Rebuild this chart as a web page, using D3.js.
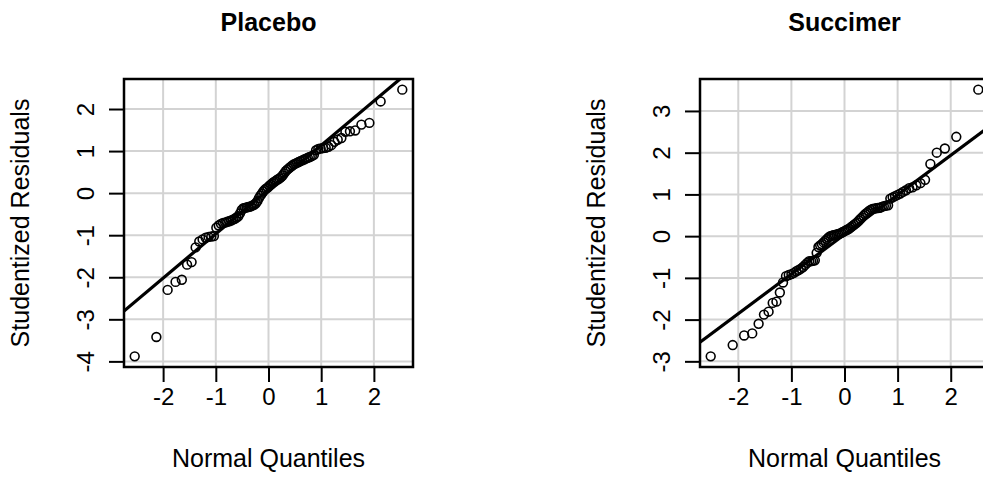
<!DOCTYPE html>
<html>
<head>
<meta charset="utf-8">
<script src="https://cdn.jsdelivr.net/npm/d3@7"></script>
<style>
  body { margin: 0; background: #ffffff; }
  svg { display: block; font-family: "Liberation Sans", Arial, Helvetica, sans-serif; }
</style>
</head>
<body>
<svg id="chart" width="983" height="499"></svg>
<script>
// Sorted studentized residuals for each treatment group
const panelTitles = ["Placebo", "Succimer"];

const placeboResiduals = [
  -3.88, -3.42, -2.30, -2.11, -2.06, -1.70, -1.64, -1.29, -1.15, -1.10,
  -1.06, -1.04, -1.03, -1.02, -0.82, -0.77, -0.73, -0.71, -0.70, -0.68,
  -0.67, -0.65, -0.63, -0.61, -0.58, -0.55, -0.48, -0.40, -0.36, -0.35,
  -0.34, -0.33, -0.32, -0.31, -0.29, -0.27, -0.24, -0.19, -0.12, -0.06,
  -0.01, 0.04, 0.08, 0.11, 0.13, 0.17, 0.20, 0.23, 0.26, 0.28,
  0.31, 0.33, 0.35, 0.38, 0.42, 0.47, 0.52, 0.56, 0.59, 0.62,
  0.65, 0.68, 0.70, 0.72, 0.74, 0.76, 0.78, 0.80, 0.82, 0.84,
  0.86, 0.88, 0.91, 1.02, 1.05, 1.06, 1.07, 1.08, 1.10, 1.14,
  1.22, 1.27, 1.31, 1.46, 1.47, 1.49, 1.63, 1.67, 2.18, 2.46
];

const succimerResiduals = [
  -2.88, -2.61, -2.38, -2.33, -2.10, -1.88, -1.81, -1.60, -1.57, -1.35, -1.11,
  -0.96, -0.93, -0.91, -0.88, -0.84, -0.81, -0.78, -0.74, -0.69, -0.64, -0.60, -0.60, -0.59, -0.58,
  -0.40, -0.26, -0.22, -0.19, -0.15, -0.11, -0.07, -0.03, 0.00, 0.01, 0.02, 0.03, 0.04, 0.05, 0.06, 0.08, 0.10, 0.12,
  0.14, 0.16, 0.18, 0.21, 0.24, 0.27, 0.30, 0.33, 0.37, 0.41, 0.45, 0.49, 0.53, 0.56, 0.60, 0.63, 0.65,
  0.66, 0.67, 0.675, 0.68, 0.70, 0.72, 0.73, 0.74,
  0.90, 0.93, 0.96, 0.99, 1.02, 1.06, 1.10, 1.15, 1.17, 1.22, 1.27, 1.35, 1.73, 2.00, 2.10, 2.38, 3.51
];

const xTickValues = [-2, -1, 0, 1, 2];
const placeboYTicks = [-4, -3, -2, -1, 0, 1, 2];
const succimerYTicks = [-3, -2, -1, 0, 1, 2, 3];
const xAxisTitle = "Normal Quantiles";
const yAxisTitle = "Studentized Residuals";

// Inverse standard normal CDF (Acklam's rational approximation)
function qnorm(p) {
  const a = [-3.969683028665376e+01, 2.209460984245205e+02, -2.759285104469687e+02, 1.383577518672690e+02, -3.066479806614716e+01, 2.506628277459239e+00];
  const b = [-5.447609879822406e+01, 1.615858368580409e+02, -1.556989798598866e+02, 6.680131188771972e+01, -1.328068155288572e+01];
  const c = [-7.784894002430293e-03, -3.223964580411365e-01, -2.400758277161838e+00, -2.549732539343734e+00, 4.374664141464968e+00, 2.938163982698783e+00];
  const d = [7.784695709041462e-03, 3.224671290700398e-01, 2.445134137142996e+00, 3.754408661907416e+00];
  const pl = 0.02425, ph = 1 - pl;
  let q, r;
  if (p < pl) {
    q = Math.sqrt(-2 * Math.log(p));
    return (((((c[0]*q+c[1])*q+c[2])*q+c[3])*q+c[4])*q+c[5]) / ((((d[0]*q+d[1])*q+d[2])*q+d[3])*q+1);
  }
  if (p > ph) {
    q = Math.sqrt(-2 * Math.log(1 - p));
    return -(((((c[0]*q+c[1])*q+c[2])*q+c[3])*q+c[4])*q+c[5]) / ((((d[0]*q+d[1])*q+d[2])*q+d[3])*q+1);
  }
  q = p - 0.5; r = q * q;
  return (((((a[0]*r+a[1])*r+a[2])*r+a[3])*r+a[4])*r+a[5])*q / (((((b[0]*r+b[1])*r+b[2])*r+b[3])*r+b[4])*r+1);
}

// Pad a range by 4% on each side, as base-graphics axes do
function paddedExtent(vals) {
  const [lo, hi] = d3.extent(vals);
  const pad = (hi - lo) * 0.04;
  return [lo - pad, hi + pad];
}

const svg = d3.select("#chart");
svg.append("rect").attr("width", 983).attr("height", 499).attr("fill", "#ffffff");

const plotTop = 79, plotBottom = 367, plotWidth = 289;
const tickFont = 24, labelFont = 25, titleFont = 25;

const panels = [
  { title: panelTitles[0], values: placeboResiduals, yTicks: placeboYTicks, left: 124 },
  { title: panelTitles[1], values: succimerResiduals, yTicks: succimerYTicks, left: 700 }
];

panels.forEach((p, idx) => {
  const n = p.values.length;
  const sorted = p.values.slice().sort(d3.ascending);
  const pts = sorted.map((v, i) => ({ q: qnorm((i + 1 - 0.5) / n), r: v }));

  const x = d3.scaleLinear().domain(paddedExtent(pts.map(d => d.q))).range([p.left, p.left + plotWidth]);
  const y = d3.scaleLinear().domain(paddedExtent(sorted)).range([plotBottom, plotTop]);

  const g = svg.append("g");
  const clipId = "clip" + idx;
  svg.append("clipPath").attr("id", clipId)
    .append("rect").attr("x", p.left).attr("y", plotTop)
    .attr("width", plotWidth).attr("height", plotBottom - plotTop);

  // light grid at the tick positions
  const grid = g.append("g").attr("clip-path", `url(#${clipId})`);
  grid.selectAll("line.vx").data(xTickValues).join("line")
    .attr("x1", d => x(d)).attr("x2", d => x(d))
    .attr("y1", plotTop).attr("y2", plotBottom)
    .attr("stroke", "#d3d3d3").attr("stroke-width", 2);
  grid.selectAll("line.hy").data(p.yTicks).join("line")
    .attr("y1", d => y(d)).attr("y2", d => y(d))
    .attr("x1", p.left).attr("x2", p.left + plotWidth)
    .attr("stroke", "#d3d3d3").attr("stroke-width", 2);

  // Q-Q points
  g.append("g").selectAll("circle").data(pts).join("circle")
    .attr("cx", d => x(d.q)).attr("cy", d => y(d.r)).attr("r", 4.4)
    .attr("fill", "none").attr("stroke", "#000").attr("stroke-width", 1.6);

  // reference line through the quartiles
  const yq1 = d3.quantile(sorted, 0.25), yq3 = d3.quantile(sorted, 0.75);
  const xq1 = qnorm(0.25), xq3 = qnorm(0.75);
  const slope = (yq3 - yq1) / (xq3 - xq1);
  const intercept = yq1 - slope * xq1;
  const [dx0, dx1] = x.domain();
  g.append("line").attr("clip-path", `url(#${clipId})`)
    .attr("x1", x(dx0)).attr("y1", y(intercept + slope * dx0))
    .attr("x2", x(dx1)).attr("y2", y(intercept + slope * dx1))
    .attr("stroke", "#000").attr("stroke-width", 3.2);

  // axes
  const xAxis = d3.axisBottom(x).tickValues(xTickValues).tickSize(15).tickPadding(6)
    .tickFormat(d3.format("d"));
  const gx = g.append("g").attr("transform", `translate(0,${plotBottom})`).call(xAxis);
  gx.select(".domain").remove();
  gx.selectAll(".tick line").attr("stroke", "#000").attr("stroke-width", 2);
  gx.selectAll(".tick text").attr("font-size", tickFont).attr("fill", "#000")
    .attr("font-family", "Liberation Sans, Arial, sans-serif")
    .attr("y", 30).attr("dy", "0.35em")
    .text(d => d < 0 ? "-" + Math.abs(d) : String(d));

  const yAxis = d3.axisLeft(y).tickValues(p.yTicks).tickSize(15).tickFormat(d3.format("d"));
  const gy = g.append("g").attr("transform", `translate(${p.left},0)`).call(yAxis);
  gy.select(".domain").remove();
  gy.selectAll(".tick line").attr("stroke", "#000").attr("stroke-width", 2);
  gy.selectAll(".tick text")
    .attr("font-size", tickFont).attr("fill", "#000")
    .attr("font-family", "Liberation Sans, Arial, sans-serif")
    .attr("text-anchor", "middle")
    .attr("x", null)
    .attr("transform", "translate(-38,0) rotate(-90)")
    .attr("dy", "0.35em")
    .text(d => d < 0 ? "-" + Math.abs(d) : String(d));

  // plot frame
  g.append("rect").attr("x", p.left).attr("y", plotTop)
    .attr("width", plotWidth).attr("height", plotBottom - plotTop)
    .attr("fill", "none").attr("stroke", "#000").attr("stroke-width", 2.5);

  const cx = p.left + plotWidth / 2;
  // panel title
  g.append("text").attr("x", cx).attr("y", 22).attr("dy", "0.35em")
    .attr("text-anchor", "middle").attr("font-weight", "bold")
    .attr("font-size", titleFont).attr("fill", "#000").text(p.title);
  // axis titles
  g.append("text").attr("x", cx).attr("y", 458).attr("dy", "0.35em")
    .attr("text-anchor", "middle").attr("font-size", labelFont).attr("fill", "#000")
    .text(xAxisTitle);
  g.append("text")
    .attr("transform", `translate(${p.left - 104},${(plotTop + plotBottom) / 2}) rotate(-90)`)
    .attr("dy", "0.35em").attr("text-anchor", "middle")
    .attr("font-size", labelFont).attr("fill", "#000").text(yAxisTitle);
});
</script>
</body>
</html>
